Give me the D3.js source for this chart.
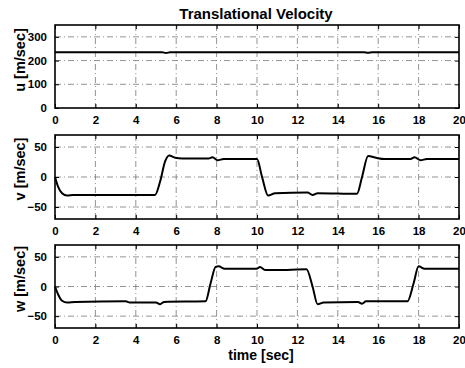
<!DOCTYPE html>
<html>
<head>
<meta charset="utf-8">
<script src="https://cdn.jsdelivr.net/npm/d3@7"></script>
<style>
  html, body { margin: 0; padding: 0; background: #fff; }
  svg { display: block; }
  text { font-family: "Liberation Sans", Arial, sans-serif; font-weight: bold; fill: #000; }
</style>
</head>
<body>
<svg id="chart" width="465" height="368"></svg>
<script>
// Time axis ticks (seconds)
const timeTicks = [0, 2, 4, 6, 8, 10, 12, 14, 16, 18, 20];

// Forward velocity u [m/sec]
const uTime = [0, 2, 4, 5.3, 5.5, 5.7, 8, 10, 12, 15.3, 15.5, 15.7, 18, 20];
const uVal  = [235, 235, 235, 235, 232, 235, 235, 235, 235, 235, 233, 235, 235, 235];
const uTicks = [0, 100, 200, 300];

// Lateral velocity v [m/sec]
const vTime = [0, 0.15, 0.35, 0.6, 0.9, 2, 4, 4.95, 5.2, 5.45, 5.65, 5.95, 6.3, 7.6, 7.8, 8.05, 8.35, 10.0, 10.25, 10.55, 10.9, 12.5, 12.75, 13.0, 14.95, 15.2, 15.5, 15.9, 16.3, 17.6, 17.8, 18.1, 18.4, 20];
const vVal  = [0, -16, -27, -31, -30, -30, -30, -30, -8, 26, 36, 32, 31, 31, 33, 28, 30, 30, 0, -31, -27, -26, -30, -27, -28, 0, 35, 32, 30, 30, 33, 28, 30, 30];
const vTicks = [-50, 0, 50];

// Vertical velocity w [m/sec]
const wTime = [0, 0.15, 0.35, 0.6, 1.0, 3.5, 3.7, 5.0, 5.2, 5.4, 7.45, 7.7, 7.95, 8.1, 8.4, 10.0, 10.15, 10.4, 11.5, 12.45, 12.75, 13.0, 13.3, 15.0, 15.2, 15.4, 17.45, 17.75, 18.0, 18.3, 20];
const wVal  = [0, -13, -24, -27, -26, -25, -27, -27, -30, -26, -25, 5, 33, 34, 30, 30, 33, 28, 28, 29, 0, -30, -27, -26, -29, -25, -25, 5, 34, 30, 30];
const wTicks = [-50, 0, 50];

const svg = d3.select("#chart");

const x = d3.scaleLinear().domain([0, 20]).range([55, 459]);

const panels = [
  { time: uTime, vals: uVal, ticks: uTicks, domain: [0, 350], range: [108, 25], label: "u [m/sec]", labelY: 60 },
  { time: vTime, vals: vVal, ticks: vTicks, domain: [-70, 70], range: [219, 135], label: "v [m/sec]", labelY: 169 },
  { time: wTime, vals: wVal, ticks: wTicks, domain: [-70, 70], range: [328, 245], label: "w [m/sec]", labelY: 279 }
];

panels.forEach(p => {
  const y = d3.scaleLinear().domain(p.domain).range(p.range);
  const g = svg.append("g");
  const top = p.range[1], bottom = p.range[0];

  // grid
  const grid = g.append("g").attr("stroke", "#777").attr("stroke-width", 0.8)
    .attr("stroke-dasharray", "6,3,1,3");
  grid.selectAll("line.gx").data(timeTicks.slice(1, -1)).join("line")
    .attr("x1", d => x(d)).attr("x2", d => x(d)).attr("y1", top).attr("y2", bottom);
  grid.selectAll("line.gy").data(p.ticks.filter(t => y(t) > top + 1 && y(t) < bottom - 1)).join("line")
    .attr("x1", x(0)).attr("x2", x(20)).attr("y1", d => y(d)).attr("y2", d => y(d));

  // data line
  const line = d3.line().x(d => x(d[0])).y(d => y(d[1])).curve(d3.curveMonotoneX);
  g.append("path").datum(p.time.map((t, i) => [t, p.vals[i]]))
    .attr("d", line).attr("fill", "none").attr("stroke", "#000").attr("stroke-width", 2);

  // axes with inward ticks on all four sides
  const xb = d3.axisBottom(x).tickValues(timeTicks).tickSize(-4).tickPadding(8).tickFormat(d3.format("d"));
  g.append("g").attr("transform", `translate(0,${bottom})`).call(xb);
  const xt = d3.axisTop(x).tickValues(timeTicks).tickSize(-4).tickFormat("");
  g.append("g").attr("transform", `translate(0,${top})`).call(xt);

  const yl = d3.axisLeft(y).tickValues(p.ticks).tickSize(-4).tickPadding(8).tickFormat(d3.format("d"));
  g.append("g").attr("transform", `translate(${x(0)},0)`).call(yl);
  const yr = d3.axisRight(y).tickValues(p.ticks).tickSize(-4).tickFormat("");
  g.append("g").attr("transform", `translate(${x(20)},0)`).call(yr);

  g.selectAll(".domain").remove();
  g.selectAll(".tick line").attr("stroke", "#000").attr("stroke-width", 1);
  g.selectAll(".tick text").attr("font-size", 11.5).attr("font-weight", "bold")
    .attr("font-family", "'Liberation Sans', Arial, sans-serif").attr("fill", "#000");

  // frame
  g.append("rect").attr("x", x(0)).attr("y", top).attr("width", x(20) - x(0)).attr("height", bottom - top)
    .attr("fill", "none").attr("stroke", "#000").attr("stroke-width", 1.6);

  // y label
  g.append("text").attr("transform", `translate(25,${p.labelY}) rotate(-90)`)
    .attr("text-anchor", "middle").attr("font-size", 14.5).text(p.label);
});

svg.append("text").attr("x", 256).attr("y", 19).attr("text-anchor", "middle")
  .attr("font-size", 15).text("Translational Velocity");
svg.append("text").attr("x", 261).attr("y", 360).attr("text-anchor", "middle")
  .attr("font-size", 14).text("time [sec]");
</script>
</body>
</html>
